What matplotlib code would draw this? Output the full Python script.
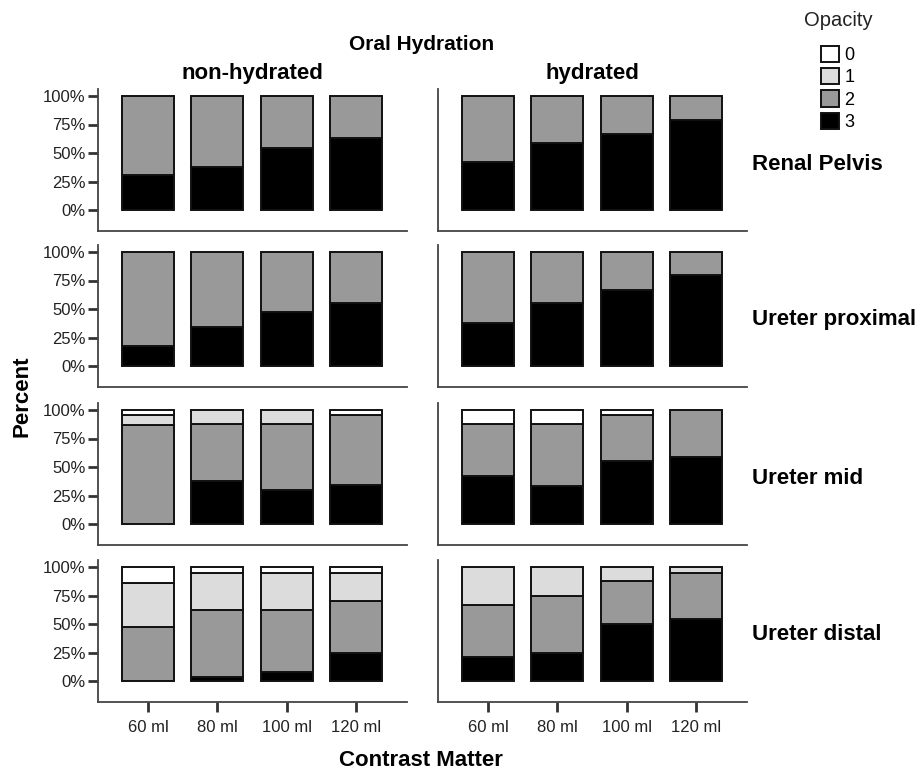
import matplotlib
matplotlib.use("Agg")
import matplotlib.pyplot as plt
import matplotlib.patches as mpatches
import numpy as np

plt.rcParams['font.family'] = ['Liberation Sans', 'DejaVu Sans']

# categories and panel labels
doses = ['60 ml', '80 ml', '100 ml', '120 ml']
hydration = ['non-hydrated', 'hydrated']
regions = ['Renal Pelvis', 'Ureter proximal', 'Ureter mid', 'Ureter distal']
opacity_levels = ['0', '1', '2', '3']
opacity_colors = ['#ffffff', '#dcdcdc', '#999999', '#000000']

# percent per opacity grade, per bar (60/80/100/120 ml)
# Renal Pelvis
rp_nh_3 = [31, 38, 54, 63]
rp_nh_2 = [69, 62, 46, 37]
rp_nh_1 = [0, 0, 0, 0]
rp_nh_0 = [0, 0, 0, 0]
rp_h_3 = [42, 59, 67, 79]
rp_h_2 = [58, 41, 33, 21]
rp_h_1 = [0, 0, 0, 0]
rp_h_0 = [0, 0, 0, 0]
# Ureter proximal
up_nh_3 = [18, 34, 47, 55]
up_nh_2 = [82, 66, 53, 45]
up_nh_1 = [0, 0, 0, 0]
up_nh_0 = [0, 0, 0, 0]
up_h_3 = [38, 55, 67, 80]
up_h_2 = [62, 45, 33, 20]
up_h_1 = [0, 0, 0, 0]
up_h_0 = [0, 0, 0, 0]
# Ureter mid
um_nh_3 = [0, 38, 30, 34]
um_nh_2 = [87, 50, 58, 62]
um_nh_1 = [9, 12, 12, 0]
um_nh_0 = [4, 0, 0, 4]
um_h_3 = [42, 33, 55, 59]
um_h_2 = [46, 55, 41, 41]
um_h_1 = [0, 0, 0, 0]
um_h_0 = [12, 12, 4, 0]
# Ureter distal
ud_nh_3 = [0, 4, 8, 25]
ud_nh_2 = [47, 58, 54, 45]
ud_nh_1 = [39, 33, 33, 25]
ud_nh_0 = [14, 5, 5, 5]
ud_h_3 = [21, 25, 50, 54]
ud_h_2 = [46, 50, 38, 41]
ud_h_1 = [33, 25, 12, 5]
ud_h_0 = [0, 0, 0, 0]

# panels[row][col] -> grades 3, 2, 1, 0 stacked from bottom
panels = [
    [[rp_nh_3, rp_nh_2, rp_nh_1, rp_nh_0], [rp_h_3, rp_h_2, rp_h_1, rp_h_0]],
    [[up_nh_3, up_nh_2, up_nh_1, up_nh_0], [up_h_3, up_h_2, up_h_1, up_h_0]],
    [[um_nh_3, um_nh_2, um_nh_1, um_nh_0], [um_h_3, um_h_2, um_h_1, um_h_0]],
    [[ud_nh_3, ud_nh_2, ud_nh_1, ud_nh_0], [ud_h_3, ud_h_2, ud_h_1, ud_h_0]],
]

W, H = 923, 769
fig = plt.figure(figsize=(W/100, H/100), dpi=100)

spine_col = '#444444'
edge_col = '#111111'
lefts = [98, 438]
panel_w = 309
bottoms = [231, 387, 545, 702]
panel_h = 142
x = np.arange(len(doses))

for r in range(4):
    for c in range(2):
        ax = fig.add_axes([lefts[c]/W, 1-bottoms[r]/H, panel_w/W, panel_h/H])
        bottom = np.zeros(len(doses))
        stack = panels[r][c]
        # grade 3 at the bottom, 0 at the top
        for k, grade in enumerate([3, 2, 1, 0]):
            vals = np.array(stack[k], dtype=float)
            mask = vals > 0
            ax.bar(x[mask], vals[mask], bottom=bottom[mask], width=0.75,
                   color=opacity_colors[grade], edgecolor=edge_col, linewidth=1.4)
            bottom += vals
        ax.set_xlim(-0.72, 3.73)
        ax.set_ylim(-18.3, 106.1)
        for s in ['top', 'right']:
            ax.spines[s].set_visible(False)
        for s in ['left', 'bottom']:
            ax.spines[s].set_color(spine_col)
            ax.spines[s].set_linewidth(1.3)
        ax.set_yticks([0, 25, 50, 75, 100])
        ax.set_yticklabels(['0%', '25%', '50%', '75%', '100%'])
        ax.tick_params(axis='y', length=7, width=2, color='#333333',
                       labelsize=12, labelcolor='#222222', pad=2)
        if c == 1:
            ax.tick_params(axis='y', left=False, labelleft=False)
        ax.set_xticks(x)
        if r == 3:
            ax.set_xticklabels(doses)
            ax.tick_params(axis='x', length=7, width=2, color='#333333',
                           labelsize=12, labelcolor='#222222', pad=6)
        else:
            ax.tick_params(axis='x', bottom=False, labelbottom=False)
        if r == 0:
            ax.set_title(hydration[c], fontsize=16, fontweight='bold', pad=7)

# row labels on the right
row_y = [164, 320, 478, 634]
for name, yy in zip(regions, row_y):
    fig.text(752/W, 1-yy/H, name, fontsize=16, fontweight='bold',
             ha='left', va='center')

fig.text(422/W, 1-44/H, 'Oral Hydration', fontsize=15, fontweight='bold',
         ha='center', va='center')
fig.text(421/W, 1-760/H, 'Contrast Matter', fontsize=16, fontweight='bold',
         ha='center', va='center')
fig.text(22/W, 1-396/H, 'Percent', fontsize=16, fontweight='bold',
         ha='center', va='center', rotation=90)

# opacity legend
fig.text(838/W, 1-20/H, 'Opacity', fontsize=14.5, ha='center', va='center',
         color='#222222')
handles = [mpatches.Patch(facecolor=opacity_colors[i], edgecolor=edge_col,
                          linewidth=1.4) for i in range(4)]
leg = fig.legend(handles, opacity_levels, loc='upper left',
                 bbox_to_anchor=(821/W, 1-46/H), frameon=False, fontsize=13,
                 handlelength=1.0, handleheight=1.0, labelspacing=0.22,
                 handletextpad=0.3, borderpad=0, borderaxespad=0)

plt.savefig('out.png', dpi=100)
plt.close()
